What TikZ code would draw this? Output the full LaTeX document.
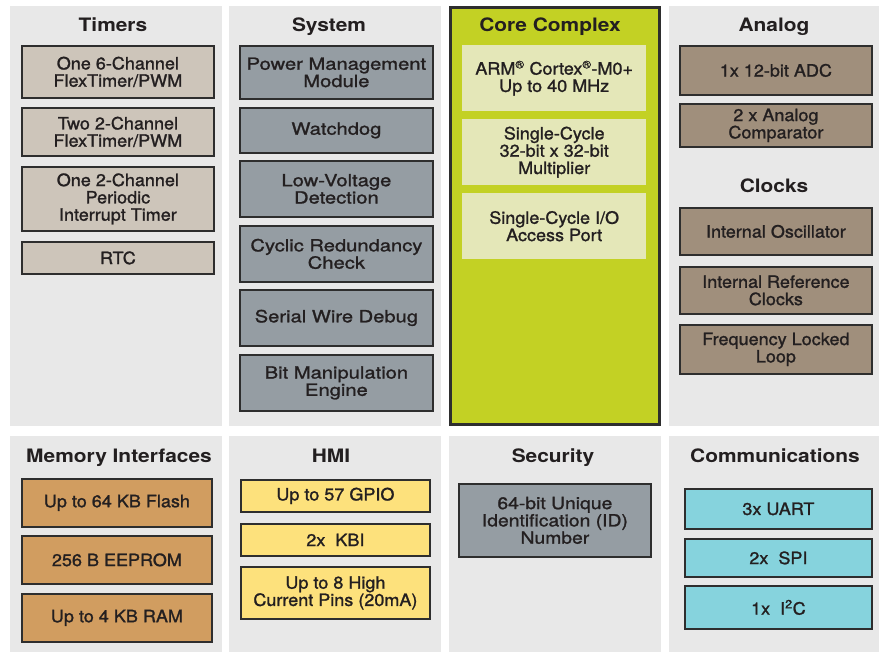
\documentclass[tikz,border=0pt]{standalone}
\usepackage{fontspec}
\setmainfont{TeX Gyre Heros}[FakeStretch=1.1]
\newfontfamily\sysfont{TeX Gyre Heros}[FakeStretch=1.2,FakeBold=1.3]
\newfontfamily\secfont{TeX Gyre Heros}[FakeStretch=1.15,FakeBold=1.3]
\newfontfamily\medfont{TeX Gyre Heros}[FakeStretch=1.06,FakeBold=1.3]
\newfontfamily\titlefont{TeX Gyre Heros}[FakeStretch=1.13,UprightFont=*-Bold]
\definecolor{panelc}{HTML}{E8E8E8}
\definecolor{timerc}{HTML}{CDC5BA}
\definecolor{sysc}{HTML}{959DA3}
\definecolor{corec}{HTML}{C3D124}
\definecolor{coreinc}{HTML}{E4E7B8}
\definecolor{anac}{HTML}{A08F7C}
\definecolor{memc}{HTML}{D19D60}
\definecolor{hmic}{HTML}{FDE17C}
\definecolor{commc}{HTML}{86D3DD}
\definecolor{bordc}{HTML}{2E2E2E}
\definecolor{txtc}{HTML}{231F20}
\begin{document}
\begin{tikzpicture}[x=1pt,y=-1pt,
  panel/.style={fill=panelc,draw=none},
  ttl/.style={anchor=base,text=txtc,inner sep=0pt,font=\titlefont\fontsize{18.5}{20}\selectfont},
  fbox/.style={anchor=north west,draw=bordc,line width=1.8pt,inner sep=0pt,align=center,text=txtc,font=\medfont\fontsize{17}{17.3}\selectfont},
  sbox/.style={fbox,fill=sysc,font=\sysfont\fontsize{16.8}{17.3}\selectfont},
  cbox/.style={anchor=north west,draw=none,inner sep=0pt,align=center,fill=coreinc,text=txtc,font=\medfont\fontsize{17}{17.3}\selectfont}
]
\useasboundingbox (0,0) rectangle (879,652);
\fill[white] (0,0) rectangle (879,652);
% panels
\path[panel] (10,6) rectangle (222,426);
\path[panel] (229,6) rectangle (441,426);
\path[panel] (669,6) rectangle (879,426);
\path[panel] (10,436) rectangle (222,652);
\path[panel] (229,436) rectangle (441,652);
\path[panel] (449,436) rectangle (661,652);
\path[panel] (669,436) rectangle (879,652);
\draw[fill=corec,draw=bordc,line width=3pt] (450.5,7.5) rectangle (659,425);
% titles
\node[ttl] (tTim) at (113,32) {Timers};
\node[ttl] (tSys) at (329,32) {System};
\node[ttl] (tCore) at (550,32) {Core Complex};
\node[ttl] (tAna) at (774,32) {Analog};
\node[ttl] (tClk) at (774,193) {Clocks};
\node[ttl] (tMem) at (119,463) {Memory Interfaces};
\node[ttl] (tHmi) at (331,463) {HMI};
\node[ttl] (tSec) at (553,463) {Security};
\node[ttl] (tCom) at (775,463) {Communications};
% Timers
\node[fbox,fill=timerc,minimum width=192,minimum height=52] (tm1) at (21,45) {One 6-Channel\\FlexTimer/PWM};
\node[fbox,fill=timerc,minimum width=192,minimum height=48] (tm2) at (21,107) {Two 2-Channel\\FlexTimer/PWM};
\node[fbox,fill=timerc,minimum width=192,minimum height=64] (tm3) at (21,166) {One 2-Channel\\Periodic\\Interrupt Timer};
\node[fbox,fill=timerc,minimum width=192,minimum height=32] (tm4) at (21,241) {RTC};
% System
\node[sbox,minimum width=193,minimum height=53] (s1) at (239,45) {Power Management\\Module};
\node[sbox,minimum width=193,minimum height=45] (s2) at (239,107) {Watchdog};
\node[sbox,minimum width=193,minimum height=56] (s3) at (239,160) {Low-Voltage\\Detection};
\node[sbox,minimum width=193,minimum height=56] (s4) at (239,225) {Cyclic Redundancy\\Check};
\node[sbox,minimum width=193,minimum height=56] (s5) at (239,289) {Serial Wire Debug};
\node[sbox,minimum width=193,minimum height=56] (s6) at (239,354) {Bit Manipulation\\Engine};
% Core
\node[cbox,minimum width=184,minimum height=66] (c1) at (462,45) {ARM\textsuperscript{\fontsize{11}{11}\selectfont ®} Cortex\textsuperscript{\fontsize{11}{11}\selectfont ®}-M0+\\Up to 40 MHz};
\node[cbox,minimum width=184,minimum height=66] (c2) at (462,119) {Single-Cycle\\32-bit x 32-bit\\Multiplier};
\node[cbox,minimum width=184,minimum height=66] (c3) at (462,193) {Single-Cycle I/O\\Access Port};
% Analog / Clocks
\node[fbox,fill=anac,minimum width=192,minimum height=49] (a1) at (679,45) {1x 12-bit ADC};
\node[fbox,fill=anac,minimum width=192,minimum height=43] (a2) at (679,103) {2 x Analog\\Comparator};
\node[fbox,fill=anac,minimum width=192,minimum height=47] (k1) at (679,207) {Internal Oscillator};
\node[fbox,fill=anac,minimum width=192,minimum height=47] (k2) at (679,266) {Internal Reference\\Clocks};
\node[fbox,fill=anac,minimum width=192,minimum height=49] (k3) at (679,324) {Frequency Locked\\Loop};
% Memory
\node[fbox,fill=memc,minimum width=190,minimum height=48] (m1) at (21,478) {Up to 64 KB Flash};
\node[fbox,fill=memc,minimum width=190,minimum height=48] (m2) at (21,535) {256 B EEPROM};
\node[fbox,fill=memc,minimum width=190,minimum height=48] (m3) at (21,593) {Up to 4 KB RAM};
% HMI
\node[fbox,fill=hmic,minimum width=189,minimum height=32] (h1) at (240,479) {Up to 57 GPIO};
\node[fbox,fill=hmic,minimum width=189,minimum height=32] (h2) at (240,523) {2x\ \ KBI};
\node[fbox,fill=hmic,minimum width=189,minimum height=52] (h3) at (240,566) {Up to 8 High\\Current Pins (20mA)};
% Security
\node[fbox,fill=sysc,font=\secfont\fontsize{16.8}{17.3}\selectfont,minimum width=192,minimum height=73] (sec) at (458,483) {64-bit Unique\\Identification (ID)\\Number};
% Communications
\node[fbox,fill=commc,minimum width=187,minimum height=40] (u1) at (684,488) {3x UART};
\node[fbox,fill=commc,minimum width=187,minimum height=38] (u2) at (684,538) {2x\ \ SPI};
\node[fbox,fill=commc,minimum width=187,minimum height=43] (u3) at (684,585) {1x\ \ I\textsuperscript{2}C};
\end{tikzpicture}
\end{document}
